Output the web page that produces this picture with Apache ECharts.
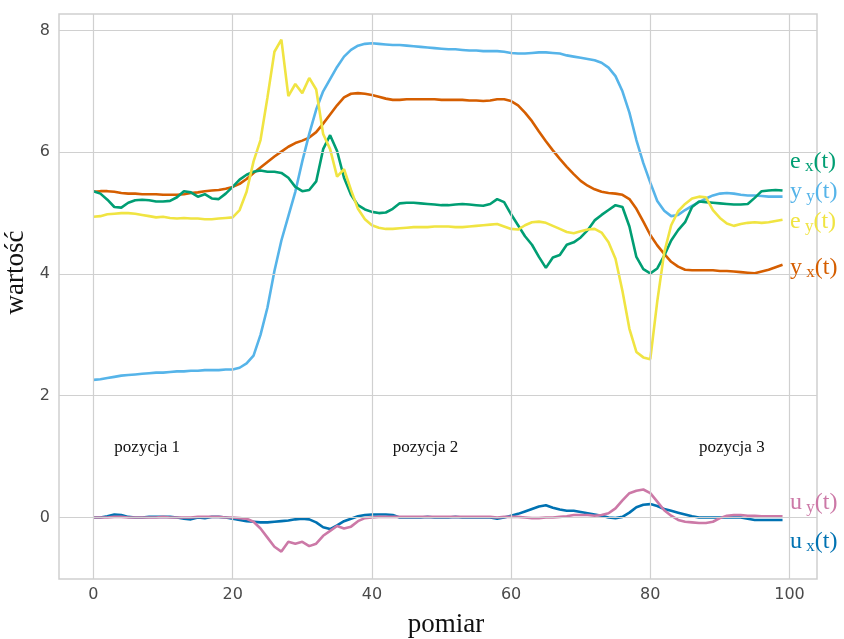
<!DOCTYPE html>
<html>
<head>
<meta charset="utf-8">
<script src="https://cdn.jsdelivr.net/npm/echarts@6/dist/echarts.min.js"></script>
<style>html,body{margin:0;padding:0;background:#fff}#c{width:844px;height:639px}</style>
</head>
<body>
<div id="c"></div>
<script>
// measurement index 0..99
const pomiar = Array.from({length: 100}, (_, i) => i);

const yx = [5.35,5.36,5.36,5.35,5.33,5.32,5.32,5.31,5.31,5.31,5.30,5.30,5.30,5.31,5.33,5.34,5.36,5.37,5.38,5.40,
5.43,5.48,5.56,5.66,5.75,5.84,5.93,6.01,6.09,6.15,6.19,6.24,6.33,6.47,6.62,6.77,6.90,6.96,6.97,6.96,
6.94,6.91,6.88,6.86,6.86,6.87,6.87,6.87,6.87,6.87,6.86,6.86,6.86,6.86,6.85,6.85,6.84,6.85,6.87,6.87,
6.84,6.77,6.65,6.51,6.34,6.18,6.03,5.89,5.76,5.64,5.53,5.45,5.39,5.35,5.33,5.32,5.30,5.23,5.07,4.86,
4.64,4.47,4.33,4.20,4.12,4.07,4.06,4.06,4.06,4.06,4.05,4.05,4.04,4.03,4.02,4.01,4.04,4.07,4.11,4.15];

const yy = [2.26,2.27,2.29,2.31,2.33,2.34,2.35,2.36,2.37,2.38,2.38,2.39,2.40,2.40,2.41,2.41,2.42,2.42,2.42,2.43,
2.43,2.46,2.53,2.66,3.00,3.45,4.05,4.55,4.95,5.35,5.85,6.30,6.70,7.00,7.20,7.40,7.57,7.68,7.75,7.78,
7.79,7.78,7.77,7.76,7.76,7.75,7.74,7.73,7.72,7.71,7.70,7.69,7.69,7.68,7.67,7.67,7.66,7.66,7.66,7.65,
7.63,7.62,7.62,7.63,7.64,7.64,7.63,7.62,7.59,7.57,7.55,7.53,7.51,7.47,7.39,7.25,7.00,6.65,6.20,5.82,
5.50,5.20,5.04,4.95,4.97,5.05,5.12,5.18,5.24,5.29,5.32,5.33,5.32,5.30,5.29,5.29,5.28,5.27,5.27,5.27];

const ex = [5.36,5.32,5.22,5.10,5.09,5.17,5.21,5.22,5.21,5.19,5.19,5.20,5.26,5.36,5.34,5.27,5.31,5.24,5.23,5.32,
5.43,5.55,5.63,5.68,5.70,5.68,5.68,5.66,5.58,5.43,5.36,5.38,5.52,6.05,6.28,6.02,5.58,5.30,5.13,5.06,
5.02,5.00,5.01,5.07,5.16,5.17,5.17,5.16,5.15,5.14,5.13,5.13,5.14,5.15,5.14,5.13,5.12,5.15,5.23,5.18,
4.98,4.80,4.62,4.48,4.28,4.10,4.27,4.31,4.48,4.52,4.60,4.72,4.88,4.97,5.05,5.13,5.10,4.78,4.28,4.08,
4.01,4.09,4.30,4.55,4.72,4.85,5.10,5.19,5.18,5.17,5.16,5.15,5.14,5.14,5.15,5.25,5.36,5.37,5.38,5.37];

const ey = [4.94,4.95,4.98,4.99,5.00,5.00,4.99,4.97,4.95,4.93,4.94,4.92,4.91,4.92,4.91,4.91,4.90,4.90,4.91,4.92,
4.93,5.05,5.35,5.85,6.20,6.90,7.65,7.85,6.92,7.12,6.97,7.22,7.03,6.30,6.05,5.60,5.72,5.38,5.07,4.90,
4.80,4.76,4.74,4.74,4.75,4.76,4.77,4.77,4.77,4.78,4.78,4.78,4.77,4.77,4.78,4.79,4.80,4.81,4.82,4.78,
4.74,4.73,4.80,4.85,4.86,4.84,4.79,4.74,4.69,4.67,4.70,4.73,4.74,4.68,4.52,4.25,3.72,3.10,2.72,2.63,
2.60,3.55,4.35,4.80,5.03,5.15,5.24,5.27,5.26,5.05,4.92,4.83,4.79,4.82,4.84,4.85,4.84,4.85,4.87,4.89];

const ux = [0.00,0.00,0.02,0.05,0.04,0.01,0.00,0.00,0.01,0.01,0.01,0.01,0.00,-0.02,-0.03,0.00,-0.01,0.01,0.01,0.00,
-0.02,-0.04,-0.06,-0.07,-0.08,-0.08,-0.07,-0.06,-0.05,-0.03,-0.02,-0.03,-0.08,-0.16,-0.19,-0.13,-0.06,-0.02,0.02,0.04,
0.05,0.05,0.05,0.04,0.00,0.00,0.00,0.00,0.01,0.00,0.00,0.00,0.01,0.00,0.00,0.00,0.00,0.00,-0.02,0.00,
0.03,0.06,0.10,0.14,0.18,0.20,0.16,0.13,0.11,0.11,0.09,0.07,0.05,0.03,0.00,-0.01,0.01,0.08,0.17,0.21,
0.22,0.19,0.14,0.11,0.08,0.05,0.02,0.00,0.00,0.00,0.00,0.00,0.00,0.00,-0.02,-0.04,-0.04,-0.04,-0.04,-0.04];

const uy = [0.00,0.00,0.00,0.01,0.01,0.00,0.00,0.00,0.00,0.00,0.01,0.00,0.00,0.00,0.00,0.01,0.01,0.01,0.01,0.00,
0.00,-0.01,-0.02,-0.07,-0.18,-0.33,-0.48,-0.56,-0.40,-0.43,-0.40,-0.47,-0.43,-0.30,-0.22,-0.14,-0.18,-0.15,-0.06,-0.01,
0.00,0.01,0.01,0.01,0.01,0.01,0.01,0.01,0.01,0.01,0.01,0.01,0.01,0.01,0.01,0.01,0.01,0.01,0.00,0.01,
0.01,0.01,0.00,-0.01,-0.01,0.00,0.00,0.01,0.02,0.04,0.04,0.04,0.03,0.04,0.07,0.15,0.28,0.40,0.44,0.46,
0.40,0.26,0.12,0.03,-0.04,-0.07,-0.08,-0.09,-0.09,-0.07,-0.01,0.03,0.04,0.04,0.03,0.03,0.02,0.02,0.02,0.02];

const xTicks = [0, 20, 40, 60, 80, 100];
const yTicks = [0, 2, 4, 6, 8];

const annTexts = ['pozycja 1', 'pozycja 2', 'pozycja 3'];
const annX = [3, 43, 87];
const annY = [1.15, 1.15, 1.15];

const seriesDefs = [
  {name: 'y_x', data: yx, color: '#D55E00'},
  {name: 'y_y', data: yy, color: '#56B4E9'},
  {name: 'e_x', data: ex, color: '#009E73'},
  {name: 'e_y', data: ey, color: '#F0E442'},
  {name: 'u_x', data: ux, color: '#0072B2'},
  {name: 'u_y', data: uy, color: '#CC79A7'}
];

// right-side labels: main letter, subscript, colour, centre y (px)
const lbl = [
  {m: 'e', s: 'x', c: '#009E73', y: 162},
  {m: 'y', s: 'y', c: '#56B4E9', y: 192},
  {m: 'e', s: 'y', c: '#F0E442', y: 222},
  {m: 'y', s: 'x', c: '#D55E00', y: 268},
  {m: 'u', s: 'y', c: '#CC79A7', y: 503},
  {m: 'u', s: 'x', c: '#0072B2', y: 542}
];

const chart = echarts.init(document.getElementById('c'), null, {renderer: 'canvas'});

const gridColor = '#d0d0d0';
const series = [{
  type: 'line', data: [], z: 1, silent: true,
  markLine: {
    silent: true, symbol: 'none', animation: false,
    label: {show: false},
    lineStyle: {color: gridColor, type: 'solid', width: 1.2},
    data: xTicks.map(v => ({xAxis: v})).concat(yTicks.map(v => ({yAxis: v})))
  },
  markPoint: {
    symbol: 'circle', symbolSize: 0, animation: false,
    label: {show: true, position: 'right', distance: 0, color: '#111', fontFamily: 'Liberation Serif', fontSize: 17,
      formatter: p => p.name},
    data: annTexts.map((t, i) => ({name: t, coord: [annX[i], annY[i]]}))
  }
}];
seriesDefs.forEach(d => {
  series.push({
    type: 'line', name: d.name, z: 3,
    data: d.data.map((v, i) => [pomiar[i], v]),
    showSymbol: false, symbol: 'none', smooth: false,
    lineStyle: {color: d.color, width: 2.6},
    itemStyle: {color: d.color},
    animation: false
  });
});

const graphic = lbl.map(l => ({
  type: 'text', x: 790, y: l.y, z: 10,
  style: {
    text: '{a|' + l.m + '}{s| ' + l.s + '}{a|(t)}',
    verticalAlign: 'middle',
    rich: {
      a: {fontFamily: 'Liberation Serif', fontSize: 24, fill: l.c, verticalAlign: 'middle'},
      s: {fontFamily: 'Liberation Serif', fontSize: 17, fill: l.c, verticalAlign: 'bottom', padding: [10, 0, 0, 0]}
    }
  }
}));

chart.setOption({
  animation: false,
  backgroundColor: '#ffffff',
  grid: {left: 59, right: 27, top: 14, bottom: 60, containLabel: false, outerBoundsMode: 'none',
    show: true, borderColor: '#cfcfcf', borderWidth: 1.5, backgroundColor: 'transparent'},
  xAxis: {
    type: 'value', min: -4.95, max: 103.95,
    name: 'pomiar', nameLocation: 'middle', nameGap: 32,
    nameTextStyle: {fontFamily: 'Liberation Serif', fontSize: 27, color: '#111', padding: [0, 0, 0, 16]},
    axisLine: {show: false}, axisTick: {show: false}, splitLine: {show: false},
    axisLabel: {customValues: xTicks, fontFamily: 'DejaVu Sans', fontSize: 16, color: '#4a4a4a', margin: 8}
  },
  yAxis: {
    type: 'value', min: -1.01, max: 8.27,
    name: 'wartość', nameLocation: 'middle', nameGap: 27, nameRotate: 90,
    nameTextStyle: {fontFamily: 'Liberation Serif', fontSize: 27, color: '#111', padding: [0, 0, 0, 48]},
    axisLine: {show: false}, axisTick: {show: false}, splitLine: {show: false},
    axisLabel: {customValues: yTicks, fontFamily: 'DejaVu Sans', fontSize: 16, color: '#4a4a4a', margin: 9}
  },
  graphic: graphic,
  series: series
});
</script>
</body>
</html>
